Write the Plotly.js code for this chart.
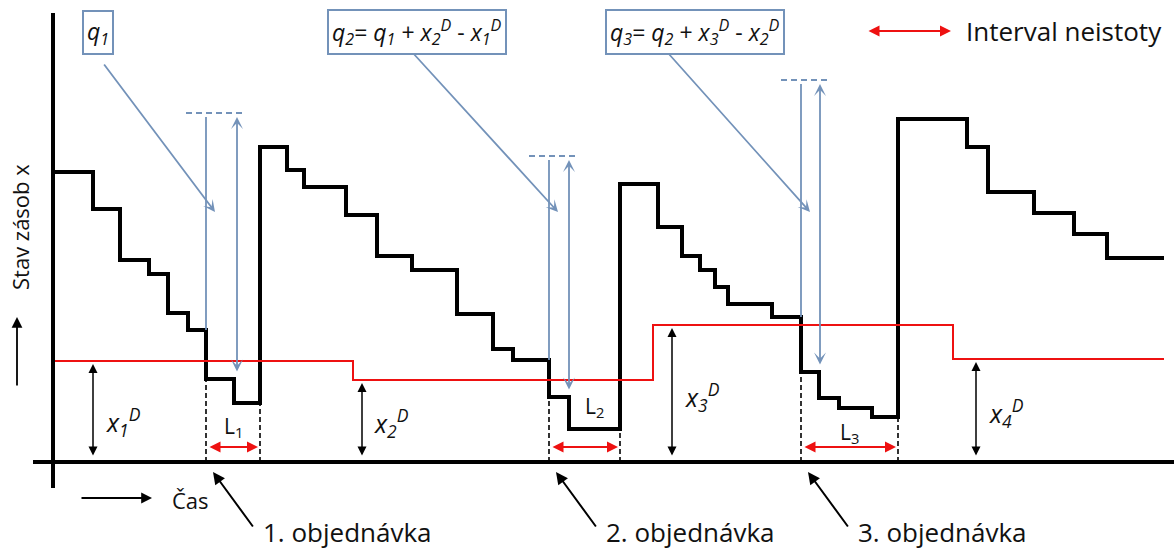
<!DOCTYPE html>
<html>
<head>
<meta charset="utf-8">
<script src="https://cdn.plot.ly/plotly-3.0.1.min.js"></script>
<style>
  html, body { margin: 0; padding: 0; background: #fff; }
  #graf { width: 1174px; height: 550px; }
</style>
</head>
<body>
<div id="graf"></div>
<script>
// stav zasob (schodovita krivka) - cas a uroven
const casy = [0, 40, 67, 96, 115, 135, 153, 181, 207, 234, 251, 293, 324, 359, 404, 440, 460, 496, 516,
  567, 605, 629, 647, 662, 675, 719, 748, 766, 786, 819, 845, 914, 935, 981, 1021, 1054, 1111];
const zasoba = [290, 253, 202, 188, 149, 132, 83, 59, 315, 292, 275, 247, 206, 192, 148, 113, 102, 65, 33,
  278, 235, 206, 192, 175, 158, 145, 90, 64, 54, 45, 343, 315, 270, 249, 228, 204, 204];

// bod objednavky x^D (cervena)
const casyXD = [0, 300, 600, 900, 1111];
const urovenXD = [101, 82, 137, 103, 103];
const polohyXD = [40, 309, 619, 923];

// objednavky
const casObjednavky = [153, 496, 748];
const casDodani = [207, 567, 845];
const casSipkyQ = [184, 516, 767];
const horniUroven = [349, 306, 382];

const modra = "#7392b9";
const cervena = "#ee1111";
const pismo = "Open Sans, sans-serif";

function uroven(t) {
  let u = zasoba[0];
  for (let i = 0; i < casy.length; i++) if (casy[i] <= t) u = zasoba[i];
  return u;
}
function urovenPred(t) {
  let u = zasoba[0];
  for (let i = 0; i < casy.length; i++) if (casy[i] < t) u = zasoba[i];
  return u;
}

function sipka(x0, y0, x1, y1, barva, sirka, obe, velikost, hlava) {
  return {
    x: x1, y: y1, ax: x0, ay: y0, xref: "x", yref: "y", axref: "x", ayref: "y",
    text: "", showarrow: true, arrowhead: hlava || 2, startarrowhead: hlava || 2,
    arrowsize: velikost || 1, startarrowsize: velikost || 1,
    arrowwidth: sirka, arrowcolor: barva,
    arrowside: obe ? "end+start" : "end", standoff: 0, startstandoff: 0
  };
}
function text(x, y, t, velikost, opt) {
  return Object.assign({
    x: x, y: y, xref: "x", yref: "y", text: t, showarrow: false,
    font: { family: pismo, size: velikost, color: "#111" }
  }, opt || {});
}

// prerusovane svisle cary (objednavka / dodani)
const carX = [], carY = [];
casObjednavky.forEach((t, i) => {
  carX.push(t, t, null); carY.push(0, uroven(t), null);
  const d = casDodani[i];
  carX.push(d, d, null); carY.push(0, urovenPred(d), null);
});

// modre svisle cary a carkovane horni urovne
const modX = [], modY = [], modDX = [], modDY = [];
casObjednavky.forEach((t, i) => {
  modX.push(t, t, null); modY.push(urovenPred(t), horniUroven[i] - 4, null);
  modDX.push(t - 20, casSipkyQ[i] + 7, null); modDY.push(horniUroven[i], horniUroven[i], null);
});

const data = [
  { x: casy, y: zasoba, mode: "lines", line: { shape: "hv", color: "#000", width: 4 }, hoverinfo: "skip" },
  { x: casyXD, y: urovenXD, mode: "lines", line: { shape: "hv", color: cervena, width: 2 }, hoverinfo: "skip" },
  { x: carX, y: carY, mode: "lines", line: { color: "#000", width: 1.6, dash: "5px,3px" }, hoverinfo: "skip" },
  { x: modX, y: modY, mode: "lines", line: { color: modra, width: 1.8 }, hoverinfo: "skip" },
  { x: modDX, y: modDY, mode: "lines", line: { color: modra, width: 1.8, dash: "6px,4px" }, hoverinfo: "skip" }
];

const anot = [];
// q sipky
casObjednavky.forEach((t, i) => {
  anot.push(sipka(casSipkyQ[i], uroven(t) + 6, casSipkyQ[i], horniUroven[i] - 4, modra, 1.8, true, 1.1, 3));
});
// x^D sipky
polohyXD.forEach((t, i) => {
  anot.push(sipka(t, 5, t, urovenXD[i] - 3, "#000", 1.5, true, 1.2, 2));
});
// intervaly L
casObjednavky.forEach((t, i) => {
  anot.push(sipka(t + 2, 15, casDodani[i] - 2, 15, cervena, 2, true, 1.1, 2));
});
// sipky k objednavkam
const objTexty = ["1. objednávka", "2. objednávka", "3. objednávka"];
casObjednavky.forEach((t, i) => {
  anot.push(sipka(t + 48, -66, t + 7, -10, "#000", 2, false, 1.2, 2));
  anot.push(text(t + 55, -70, objTexty[i], 26, { xanchor: "left" }));
});
// diagonalni modre sipky od ramecku
const tailQ = [[50, 399], [359, 410], [615, 409]];
casObjednavky.forEach((t, i) => {
  anot.push(sipka(tailQ[i][0], tailQ[i][1], t + 9, 250, modra, 1.8, false, 1.1, 3));
});
// ramecky
const ramecek = { bordercolor: modra, borderwidth: 2, borderpad: 3, bgcolor: "#fff" };
anot.push(text(45, 430, "<i>q<sub>1</sub></i>", 23, ramecek));
anot.push(text(364, 430, "<i>q<sub>2</sub></i>= <i>q<sub>1</sub></i> + <i>x<sub>2</sub><sup>D</sup></i> - <i>x<sub>1</sub><sup>D</sup></i>", 23, ramecek));
anot.push(text(642, 430, "<i>q<sub>3</sub></i>= <i>q<sub>2</sub></i> + <i>x<sub>3</sub><sup>D</sup></i> - <i>x<sub>2</sub><sup>D</sup></i>", 23, ramecek));
// x^D popisky
const popisXD = [[51, 40, "1"], [319, 39, "2"], [630, 65, "3"], [934, 49, "4"]];
popisXD.forEach(p => anot.push(text(p[0], p[1], "<i>x<sub>" + p[2] + "</sub><sup>D</sup></i>", 25, { xanchor: "left" })));
// L popisky
anot.push(text(180, 35, "L<sub>1</sub>", 21));
anot.push(text(541, 55, "L<sub>2</sub>", 21));
anot.push(text(796, 29, "L<sub>3</sub>", 21));
// legenda
anot.push(sipka(814, 431, 898, 431, cervena, 2, true, 1.1, 2));
anot.push(text(911, 431, "Interval neistoty", 26, { xanchor: "left" }));
// osy - popisky
anot.push(text(-33, 235, "Stav zásob x", 22, { textangle: -90 }));
anot.push(sipka(-36, 75, -36, 145, "#000", 1.8, false, 1.2, 2));
anot.push(sipka(27, -36, 99, -36, "#000", 1.8, false, 1.2, 2));
anot.push(text(137, -38, "Čas", 22));

const layout = {
  width: 1174, height: 550,
  margin: { l: 0, r: 0, t: 0, b: 0 },
  paper_bgcolor: "#fff", plot_bgcolor: "#fff",
  showlegend: false,
  xaxis: { range: [-53, 1121], visible: false, fixedrange: true },
  yaxis: { range: [-88, 462], visible: false, fixedrange: true },
  shapes: [
    { type: "line", xref: "x", yref: "y", x0: 0, x1: 0, y0: -26, y1: 449, line: { color: "#000", width: 4 } },
    { type: "line", xref: "x", yref: "y", x0: -20, x1: 1121, y0: 0, y1: 0, line: { color: "#000", width: 4 } }
  ],
  annotations: anot
};

Plotly.newPlot("graf", data, layout, { staticPlot: true });
</script>
</body>
</html>
